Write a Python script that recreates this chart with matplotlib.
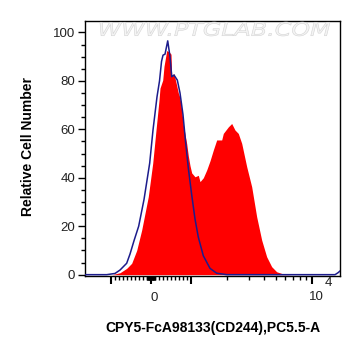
import matplotlib
matplotlib.use('Agg')
import matplotlib.pyplot as plt
from matplotlib.ticker import FixedLocator, NullFormatter
from matplotlib.textpath import TextPath
from matplotlib.patches import PathPatch
from matplotlib.font_manager import FontProperties
from matplotlib.transforms import Affine2D, IdentityTransform

plt.rcParams['font.family'] = ['Liberation Sans', 'DejaVu Sans']

# CD244 stained sample (filled red histogram)
x_sample = [-1640, -975, -775, -608, -483, -358, -233, -68, 43, 125, 200, 225, 293, 325,
            393, 450, 500, 518, 575, 643, 683, 725, 768, 808, 850, 893, 933, 975, 1013,
            1079, 1149, 1187, 1264, 1348, 1436, 1528, 1630, 1793, 1849, 2034, 2169, 2309,
            2459, 2624, 2885, 3173, 3489, 3837, 4219, 4640, 5103, 5781, 6574, 17000]
y_sample = [0, 0, 0.8, 2.6, 4.7, 10, 18.4, 32.2, 46, 59.7, 72, 77, 80.3, 86,
            92.5, 92, 91, 82, 83, 78, 75, 73, 68, 62, 58, 54, 49, 45, 42,
            40.4, 41, 38.4, 40, 43.2, 47, 51.4, 55.6, 55.6, 58.3, 61, 62.4, 59.7,
            58.3, 54.2, 44.6, 36.3, 23.9, 14.3, 7.4, 3.3, 1.2, 0.3, 0, 0]

# isotype control (blue outline)
x_control = [-1640, -1085, -900, -775, -608, -525, -425, -308, -175, -33, 50, 150, 213,
             263, 300, 350, 418, 475, 518, 575, 658, 725, 800, 863, 933, 1013, 1079,
             1149, 1264, 1436, 1630, 1972, 15500, 16400, 17030]
y_control = [0, 0, 0.5, 1.9, 4.7, 8.5, 14, 20, 31, 46, 59.7, 73.4, 80,
             88, 90.6, 91, 96.5, 90, 81.7, 82.4, 80.3, 75, 66, 55, 44, 33, 23,
             15.5, 7.8, 2.6, 0.6, 0, 0, 0.8, 1.5]

x_major = [-1000, 0, 1000, 10000]
x_minor = (list(range(-900, 0, 100)) + list(range(-90, 0, 10)) + list(range(10, 100, 10))
           + list(range(100, 1000, 100)) + list(range(2000, 10000, 1000)))

fig = plt.figure(figsize=(3.61, 3.56), dpi=100)
ax = fig.add_axes([85 / 361, 80 / 356, 255 / 361, 255 / 356])
ax.set_xscale('symlog', linthresh=1000, linscale=0.2975)

ax.fill_between(x_sample, y_sample, color='#ff0000', lw=0, zorder=2)
ax.plot(x_control, y_control, color='#1c1c8c', lw=1.1, zorder=3)

ax.set_xlim(-1640, 17030)
ax.set_ylim(-0.55, 104.7)

ax.xaxis.set_major_locator(FixedLocator(x_major))
ax.xaxis.set_minor_locator(FixedLocator(x_minor))
ax.xaxis.set_major_formatter(NullFormatter())
ax.xaxis.set_minor_formatter(NullFormatter())
ax.tick_params(axis='x', which='major', length=6, width=1.5, color='black')
ax.tick_params(axis='x', which='minor', length=3, width=1, color='black')

ax.set_yticks(range(0, 101, 20))
ax.set_yticks(range(0, 101, 5), minor=True)
ax.tick_params(axis='y', which='major', length=5, width=1, pad=2,
               labelsize=9.5, labelcolor='#222222')
ax.tick_params(axis='y', which='minor', length=3, width=1)

for s in ax.spines.values():
    s.set_linewidth(1)

# x tick labels
lab = dict(xycoords=('data', 'axes fraction'), textcoords='offset points',
           ha='center', va='center', fontsize=9.5, color='#222222')
ax.annotate('0', xy=(0, 0), xytext=(2.5, -16), **lab)
ax.annotate('10', xy=(10000, 0), xytext=(3.5, -15), **lab)
ax.annotate('4', xy=(10000, 0), xytext=(11.5, -4.7), **lab)

fig.text(213 / 361, 1 - 328 / 356, 'CPY5-FcA98133(CD244),PC5.5-A',
         ha='center', va='center', fontsize=10, fontweight='bold')
fig.text(28 / 361, 1 - 146 / 356, 'Relative Cell Number', rotation=90,
         ha='center', va='center', fontsize=10, fontweight='bold')

# watermark
fp = FontProperties(family='DejaVu Sans', style='oblique')
tp = TextPath((0, 0), 'WWW.PTGLAB.COM', size=10, prop=fp)
bb = tp.get_extents()
x0, x1, y0, y1 = 100, 330, 356 - 36, 356 - 22
tr = (Affine2D().translate(-bb.x0, -bb.y0)
      .scale((x1 - x0) / bb.width, (y1 - y0) / bb.height).translate(x0, y0))
wm = PathPatch(tr.transform_path(tp), transform=IdentityTransform(),
               fc='#f4f4f4', ec='#d2d2d2', lw=0.4, zorder=10)
fig.add_artist(wm)

fig.savefig('out.png', dpi=100)
